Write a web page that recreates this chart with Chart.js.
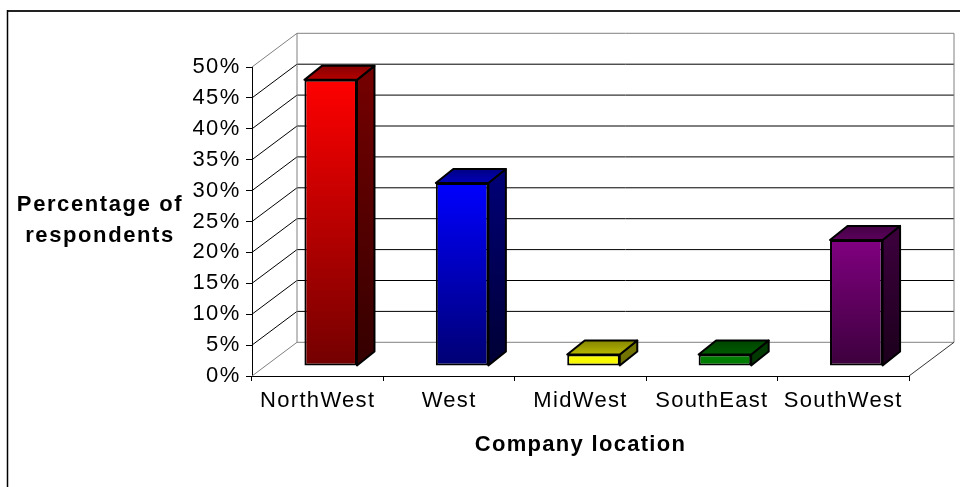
<!DOCTYPE html>
<html>
<head>
<meta charset="utf-8">
<script src="https://cdn.jsdelivr.net/npm/chart.js@4.4.1/dist/chart.umd.min.js"></script>
<style>
  html, body { margin: 0; padding: 0; background: #fff; }
  canvas { display: block; }
</style>
</head>
<body>
<canvas id="chart" width="960" height="487"></canvas>
<script>
const categories = ['NorthWest', 'West', 'MidWest', 'SouthEast', 'SouthWest'];
const respondents = [46.3, 29.6, 1.85, 1.85, 20.4];
const barColors = ['#ff0000', '#0000ff', '#ffff00', '#008000', '#800080'];
const yMax = 50;
const yStep = 5;
const yTitleLines = ['Percentage of', 'respondents'];
const xTitle = 'Company location';

const FONT = "'Liberation Sans', Arial, sans-serif";
const SPACING = '1.3px';
const WALL = { dx: 45, dy: -33.7 };      // depth of the box behind the front axes
const BAR_SHIFT = { dx: 13, dy: -10 };   // bars stand half way into the box
const BAR_DEPTH = { dx: 17.5, dy: -14 };

const hexRgb = h => [1, 3, 5].map(i => parseInt(h.slice(i, i + 2), 16));
const shade = (h, f) => 'rgb(' + hexRgb(h).map(c => Math.round(c * f)).join(',') + ')';
const fade = (top, base) => 1 - 0.55 * Math.min(1, (base - top) / 130);

Chart.defaults.font.family = FONT;
Chart.defaults.color = '#000';

const line = (ctx, x1, y1, x2, y2, color) => {
  ctx.strokeStyle = color;
  ctx.beginPath();
  ctx.moveTo(x1, y1);
  ctx.lineTo(x2, y2);
  ctx.stroke();
};

const poly = (ctx, pts, fill) => {
  ctx.beginPath();
  pts.forEach(([x, y], i) => i ? ctx.lineTo(x, y) : ctx.moveTo(x, y));
  ctx.closePath();
  ctx.fillStyle = fill;
  ctx.fill();
  ctx.stroke();
};

const box3d = {
  id: 'box3d',
  beforeUpdate(chart) { chart.ctx.letterSpacing = SPACING; },
  beforeDraw(chart) {
    const { ctx } = chart;
    ctx.letterSpacing = SPACING;
    ctx.save();
    ctx.lineWidth = 2;
    line(ctx, 7, 11, chart.width, 11, '#222');
    ctx.lineWidth = 1.5;
    line(ctx, 7.5, 10, 7.5, chart.height, '#000');
    ctx.restore();
  },
  beforeDatasetsDraw(chart) {
    const { ctx, chartArea: a, scales: { y } } = chart;
    const bl = a.left + WALL.dx, br = a.right + WALL.dx;
    ctx.save();
    ctx.lineWidth = 1;
    y.ticks.forEach(t => {
      const py = y.getPixelForValue(t.value);
      const edge = t.value === 0 || t.value === yMax;
      // back wall and left wall lines at each tick
      line(ctx, bl, py + WALL.dy, br, py + WALL.dy, edge ? '#808080' : '#000');
      line(ctx, a.left, py, bl, py + WALL.dy, edge ? '#808080' : '#000');
    });
    line(ctx, bl, a.top + WALL.dy, bl, a.bottom + WALL.dy, '#808080');
    line(ctx, br, a.top + WALL.dy, br, a.bottom + WALL.dy, '#808080');
    line(ctx, a.right, a.bottom, br, a.bottom + WALL.dy, '#333');
    ctx.restore();

    ctx.save();
    ctx.translate(BAR_SHIFT.dx, BAR_SHIFT.dy);
  },
  afterDatasetsDraw(chart) {
    const { ctx } = chart;
    const meta = chart.getDatasetMeta(0);
    ctx.lineWidth = 2;
    ctx.lineJoin = 'round';
    ctx.strokeStyle = '#000';
    meta.data.forEach((bar, i) => {
      const { x, y, base, width } = bar.getProps(['x', 'y', 'base', 'width'], true);
      const l = x - width / 2, r = x + width / 2;
      const { dx, dy } = BAR_DEPTH;
      const c = barColors[i];

      const side = ctx.createLinearGradient(0, y, 0, base);
      side.addColorStop(0, shade(c, 0.45));
      side.addColorStop(1, shade(c, 0.45 * fade(y, base)));
      poly(ctx, [[r, y], [r + dx, y + dy], [r + dx, base + dy], [r, base]], side);

      const top = ctx.createLinearGradient(0, y, 0, y + dy);
      top.addColorStop(0, shade(c, 0.72));
      top.addColorStop(1, shade(c, 0.52));
      poly(ctx, [[l, y], [l + dx, y + dy], [r + dx, y + dy], [r, y]], top);
    });
    ctx.restore();
  },
  afterDraw(chart) {
    const { ctx, scales: { y } } = chart;
    const mid = y.getPixelForValue(yMax / 2);
    ctx.save();
    ctx.font = 'bold 22px ' + FONT;
    ctx.letterSpacing = '1.6px';
    ctx.fillStyle = '#000';
    ctx.textAlign = 'center';
    ctx.textBaseline = 'alphabetic';
    yTitleLines.forEach((s, i) => ctx.fillText(s, 100, mid - 11 + i * 31));
    ctx.restore();
  }
};

new Chart(document.getElementById('chart'), {
  type: 'bar',
  data: {
    labels: categories,
    datasets: [{
      data: respondents,
      backgroundColor: c => {
        const { chart, raw, dataIndex } = c;
        const y = chart.scales.y;
        const col = barColors[dataIndex];
        if (!chart.chartArea || !y) return col;
        const top = y.getPixelForValue(raw), base = y.getPixelForValue(0);
        const g = chart.ctx.createLinearGradient(0, top, 0, base);
        g.addColorStop(0, col);
        g.addColorStop(1, shade(col, fade(top, base)));
        return g;
      },
      borderColor: '#000',
      borderWidth: 2,
      borderSkipped: false,
      barPercentage: 0.4,
      categoryPercentage: 1,
    }],
  },
  options: {
    responsive: false,
    animation: false,
    layout: { padding: { left: 0, top: 67, right: 51, bottom: 0 } },
    plugins: { legend: { display: false }, tooltip: { enabled: false } },
    scales: {
      x: {
        ticks: { padding: 6.7, font: { size: 22 } },
        grid: { drawOnChartArea: false, tickLength: 5, color: '#000', offset: true },
        border: { color: '#000' },
        title: { display: true, text: xTitle, font: { size: 22, weight: 'bold' }, padding: { top: 0, bottom: 29 } },
        afterFit: s => { s.height = 487 - 376; },
      },
      y: {
        min: 0,
        max: yMax,
        ticks: { stepSize: yStep, padding: 5.5, font: { size: 22 }, callback: v => v + '%' },
        grid: { drawOnChartArea: false, tickLength: 6, color: '#000' },
        border: { color: '#000' },
        afterFit: s => { s.width = 252; },
      },
    },
  },
  plugins: [box3d],
});
</script>
</body>
</html>
